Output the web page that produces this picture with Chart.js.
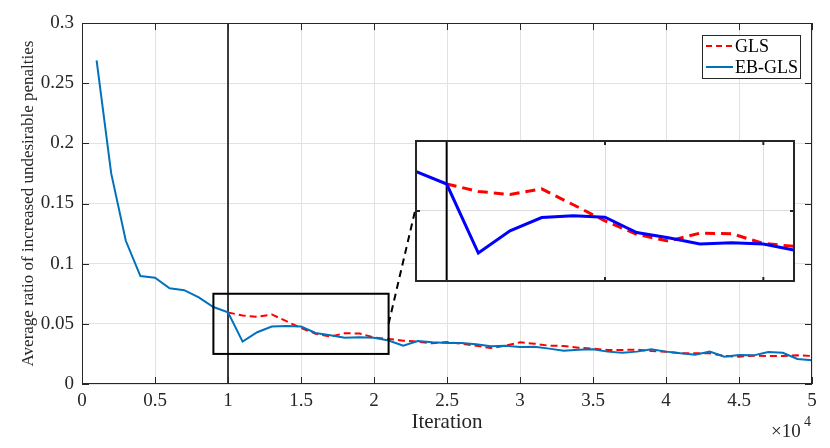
<!DOCTYPE html>
<html lang="en">
<head>
<meta charset="UTF-8">
<title>Average ratio of increased undesirable penalties</title>
<script src="https://cdn.jsdelivr.net/npm/chart.js"></script>
<style>
  body { margin: 0; background: #fff; }
  #wrap { position: relative; width: 830px; height: 448px; }
  #inset { position: absolute; left: 415px; top: 140px; width: 380px; height: 142px; background: #fff; }
</style>
</head>
<body>
<div id="wrap">
  <canvas id="main"></canvas>
  <div id="inset"><canvas id="zoomChart"></canvas></div>
</div>
<script>
// iterations (x values)
const iterations = [1000, 2000, 3000, 4000, 5000, 6000, 7000, 8000, 9000, 10000,
  11000, 12000, 13000, 14000, 15000, 16000, 17000, 18000, 19000, 20000,
  21000, 22000, 23000, 24000, 25000, 26000, 27000, 28000, 29000, 30000,
  31000, 32000, 33000, 34000, 35000, 36000, 37000, 38000, 39000, 40000,
  41000, 42000, 43000, 44000, 45000, 46000, 47000, 48000, 49000, 50000];

// EB-GLS
const ebgls = [0.269, 0.175, 0.119, 0.0897, 0.0883, 0.0795, 0.078, 0.072, 0.064, 0.0595,
  0.0352, 0.043, 0.0477, 0.0483, 0.0478, 0.0424, 0.0406, 0.0384, 0.0388, 0.0384,
  0.0362, 0.0318, 0.0357, 0.0346, 0.034, 0.034, 0.033, 0.0313, 0.0318, 0.0307,
  0.031, 0.0294, 0.0277, 0.0285, 0.0288, 0.0269, 0.026, 0.0269, 0.0288, 0.0269,
  0.0255, 0.0244, 0.0269, 0.0227, 0.0241, 0.0238, 0.0266, 0.026, 0.0208, 0.0197];

// GLS (same as EB-GLS before 1e4, hidden under it)
const gls = [null, null, null, null, null, null, null, null, null, 0.0595,
  0.0569, 0.0558, 0.0578, 0.0522, 0.0465, 0.0418, 0.0394, 0.0422, 0.042, 0.0386,
  0.0375, 0.036, 0.0352, 0.0338, 0.0349, 0.0335, 0.0318, 0.0299, 0.0318, 0.0346,
  0.0335, 0.0318, 0.0316, 0.0302, 0.0294, 0.0283, 0.0283, 0.0285, 0.0274, 0.0269,
  0.0255, 0.0255, 0.0255, 0.0233, 0.0227, 0.0235, 0.0233, 0.0233, 0.0238, 0.0233];

const xTickValues = [0, 5000, 10000, 15000, 20000, 25000, 30000, 35000, 40000, 45000, 50000];
const xTickLabels = ['0', '0.5', '1', '1.5', '2', '2.5', '3', '3.5', '4', '4.5', '5'];
const yTickValues = [0, 0.05, 0.1, 0.15, 0.2, 0.25, 0.3];
const yTickLabels = ['0', '0.05', '0.1', '0.15', '0.2', '0.25', '0.3'];

// zoomed region
const zoomX = [9000, 21000];
const zoomY = [0.025, 0.075];
const zoomXTicks = [15000, 20000];
const zoomYTicks = [0.05];
const switchIter = 10000;

const AX = '#262626';
const GRID = '#e2e2e2';
const SERIF = '"Liberation Serif", "DejaVu Serif", serif';

function pts(ys) {
  return iterations.map((x, i) => ({ x: x, y: ys[i] }));
}

// inset chart
const insetDecor = {
  id: 'insetDecor',
  beforeDatasetsDraw(chart) {
    const { ctx, chartArea: a, scales: { x } } = chart;
    ctx.save();
    ctx.strokeStyle = '#000';
    ctx.lineWidth = 2;
    const px = x.getPixelForValue(switchIter);
    ctx.beginPath(); ctx.moveTo(px, a.top); ctx.lineTo(px, a.bottom); ctx.stroke();
    ctx.restore();
  },
  afterDatasetsDraw(chart) {
    const { ctx, chartArea: a, scales: { x, y } } = chart;
    ctx.save();
    ctx.strokeStyle = AX;
    ctx.lineWidth = 2;
    zoomXTicks.forEach(v => {
      const px = x.getPixelForValue(v);
      ctx.beginPath();
      ctx.moveTo(px, a.top); ctx.lineTo(px, a.top + 5);
      ctx.moveTo(px, a.bottom); ctx.lineTo(px, a.bottom - 5);
      ctx.stroke();
    });
    zoomYTicks.forEach(v => {
      const py = y.getPixelForValue(v);
      ctx.beginPath();
      ctx.moveTo(a.left, py); ctx.lineTo(a.left + 5, py);
      ctx.moveTo(a.right, py); ctx.lineTo(a.right - 5, py);
      ctx.stroke();
    });
    ctx.strokeRect(a.left + 1, a.top + 1, a.right - a.left - 2, a.bottom - a.top - 2);
    ctx.restore();
  }
};

const insetChart = new Chart(document.getElementById('zoomChart'), {
  type: 'line',
  data: {
    datasets: [
      { label: 'EB-GLS', data: pts(ebgls), borderColor: '#0000ff', borderWidth: 3,
        pointRadius: 0, tension: 0, fill: false, order: 0 },
      { label: 'GLS', data: pts(gls), borderColor: '#ff0000', borderWidth: 3,
        borderDash: [10, 6], pointRadius: 0, tension: 0, fill: false, order: 1 }
    ]
  },
  options: {
    responsive: true,
    maintainAspectRatio: false,
    animation: false,
    layout: { padding: 0 },
    plugins: { legend: { display: false }, tooltip: { enabled: false } },
    scales: {
      x: {
        type: 'linear', min: zoomX[0], max: zoomX[1],
        ticks: { display: false },
        grid: { color: '#dcdcdc', drawTicks: false },
        border: { display: false },
        afterBuildTicks: s => { s.ticks = zoomXTicks.map(v => ({ value: v })); },
        afterFit: s => { s.height = 0; }
      },
      y: {
        min: zoomY[0], max: zoomY[1],
        ticks: { display: false },
        grid: { color: '#dcdcdc', drawTicks: false },
        border: { display: false },
        afterBuildTicks: s => { s.ticks = zoomYTicks.map(v => ({ value: v })); },
        afterFit: s => { s.width = 0; }
      }
    }
  },
  plugins: [insetDecor]
});

// main chart
const mainDecor = {
  id: 'mainDecor',
  beforeDatasetsDraw(chart) {
    const { ctx, chartArea: a, scales: { x } } = chart;
    ctx.save();
    ctx.strokeStyle = '#000';
    ctx.lineWidth = 1.5;
    const px = x.getPixelForValue(switchIter);
    ctx.beginPath(); ctx.moveTo(px, a.top); ctx.lineTo(px, a.bottom); ctx.stroke();
    ctx.restore();
  },
  afterDatasetsDraw(chart) {
    const { ctx, chartArea: a, scales: { x, y } } = chart;
    ctx.save();
    // axes box and inward ticks
    ctx.strokeStyle = AX;
    ctx.lineWidth = 1;
    ctx.strokeRect(a.left + 0.5, a.top + 0.5, a.right - a.left - 1, a.bottom - a.top - 1);
    ctx.beginPath();
    xTickValues.forEach(v => {
      const px = Math.round(x.getPixelForValue(v)) + 0.5;
      ctx.moveTo(px, a.bottom); ctx.lineTo(px, a.bottom - 7);
      ctx.moveTo(px, a.top); ctx.lineTo(px, a.top + 7);
    });
    yTickValues.forEach(v => {
      const py = Math.round(y.getPixelForValue(v)) + 0.5;
      ctx.moveTo(a.left, py); ctx.lineTo(a.left + 7, py);
      ctx.moveTo(a.right, py); ctx.lineTo(a.right - 7, py);
    });
    ctx.stroke();

    // zoom rectangle
    const x0 = x.getPixelForValue(zoomX[0]), x1 = x.getPixelForValue(zoomX[1]);
    const y0 = y.getPixelForValue(zoomY[1]), y1 = y.getPixelForValue(zoomY[0]);
    ctx.strokeStyle = '#000';
    ctx.lineWidth = 2;
    ctx.strokeRect(x0, y0, x1 - x0, y1 - y0);

    // connector to inset
    const box = document.getElementById('inset');
    const ia = insetChart.chartArea;
    const tx = box.offsetLeft + ia.left;
    const ty = box.offsetTop + insetChart.scales.y.getPixelForValue(zoomYTicks[0]);
    ctx.setLineDash([7, 5]);
    ctx.beginPath();
    ctx.moveTo(x1, y.getPixelForValue(zoomYTicks[0]));
    ctx.lineTo(tx, ty);
    ctx.stroke();
    ctx.setLineDash([]);

    // legend
    const lw = 98, lh = 43;
    const lx = a.right - 12 - lw, ly = a.top + 12;
    ctx.fillStyle = '#fff';
    ctx.fillRect(lx, ly, lw, lh);
    ctx.strokeStyle = AX;
    ctx.lineWidth = 1;
    ctx.strokeRect(lx + 0.5, ly + 0.5, lw, lh);
    const rows = [
      { text: 'GLS', color: '#ff0000', dash: [6, 4] },
      { text: 'EB-GLS', color: '#0072bd', dash: [] }
    ];
    ctx.font = '18px ' + SERIF;
    ctx.textBaseline = 'middle';
    ctx.textAlign = 'left';
    rows.forEach((r, i) => {
      const ry = ly + 11 + i * 21;
      ctx.strokeStyle = r.color;
      ctx.lineWidth = 2;
      ctx.setLineDash(r.dash);
      ctx.beginPath(); ctx.moveTo(lx + 4, ry); ctx.lineTo(lx + 31, ry); ctx.stroke();
      ctx.setLineDash([]);
      ctx.fillStyle = '#000';
      ctx.fillText(r.text, lx + 33, ry + 1);
    });

    // exponent
    ctx.fillStyle = AX;
    ctx.textBaseline = 'alphabetic';
    ctx.font = '19px ' + SERIF;
    ctx.fillText('\u00d710', 771, 437);
    ctx.font = '14px ' + SERIF;
    ctx.fillText('4', 804, 426);
    ctx.restore();
  }
};

new Chart(document.getElementById('main'), {
  type: 'line',
  data: {
    datasets: [
      { label: 'EB-GLS', data: pts(ebgls), borderColor: '#0072bd', borderWidth: 2,
        pointRadius: 0, tension: 0, fill: false, order: 0 },
      { label: 'GLS', data: pts(gls), borderColor: '#ff0000', borderWidth: 2,
        borderDash: [7, 4], pointRadius: 0, tension: 0, fill: false, order: 1 }
    ]
  },
  options: {
    responsive: true,
    maintainAspectRatio: false,
    animation: false,
    layout: { padding: { top: 23, right: 18, left: 0, bottom: 0 } },
    plugins: { legend: { display: false }, tooltip: { enabled: false } },
    scales: {
      x: {
        type: 'linear', min: 0, max: 50000,
        afterBuildTicks: s => { s.ticks = xTickValues.map(v => ({ value: v })); },
        afterFit: s => { s.height = 64; },
        ticks: {
          callback: (v, i) => xTickLabels[i],
          font: { family: SERIF, size: 19 }, color: AX, padding: 6, maxRotation: 0
        },
        grid: { color: GRID, drawTicks: false },
        border: { display: false },
        title: { display: true, text: 'Iteration', color: AX,
          font: { family: SERIF, size: 21 }, padding: { top: 13, bottom: 13 } }
      },
      y: {
        min: 0, max: 0.3,
        afterBuildTicks: s => { s.ticks = yTickValues.map(v => ({ value: v })); },
        afterFit: s => { s.width = 82; },
        ticks: {
          callback: (v, i) => yTickLabels[i],
          font: { family: SERIF, size: 19 }, color: AX, padding: 8
        },
        grid: { color: GRID, drawTicks: false },
        border: { display: false },
        title: { display: true, text: 'Average ratio of increased undesirable penalties', color: AX,
          font: { family: SERIF, size: 17 }, padding: { top: 18, bottom: 18 } }
      }
    }
  },
  plugins: [mainDecor]
});
</script>
</body>
</html>
